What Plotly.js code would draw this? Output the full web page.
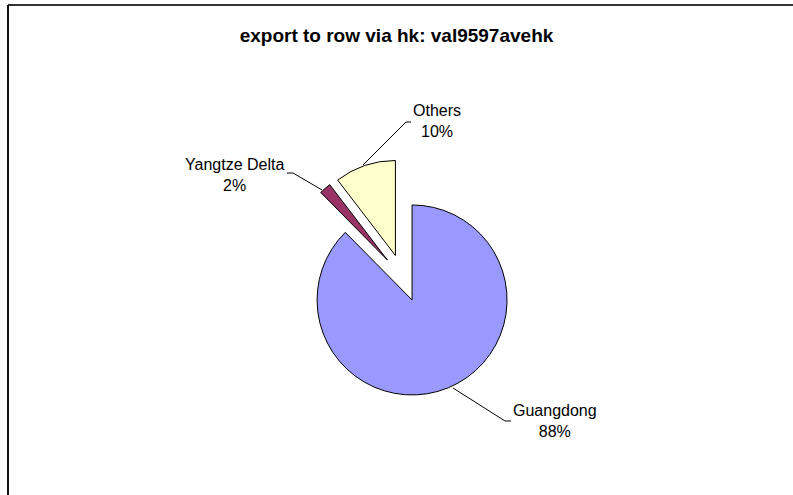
<!DOCTYPE html>
<html>
<head>
<meta charset="utf-8">
<script src="https://cdn.plot.ly/plotly-3.0.1.min.js"></script>
<style>
  body { margin: 0; background: #fff; }
  #chart { width: 793px; height: 495px; }
</style>
</head>
<body>
<div id="chart"></div>
<script>
// Region shares of exports to rest of world via HK
const regions = ["Guangdong", "Yangtze Delta", "Others"];
const shares = [87.6, 2.0, 10.4];
const sliceColors = ["#9999FF", "#993366", "#FFFFCC"];

// label placement (Excel style, outside with leader lines)
const labelPos = [
    { x: 555, y: 421 },
    { x: 235, y: 175 },
    { x: 437, y: 121 }
];
const leaderPaths = [
    "M453,388 L505,421 L511,421",
    "M287,173 L293,173 L322,190",
    "M363,165 L406,122 L411,122"
];

const W = 793, H = 495;
const total = shares.reduce((a, b) => a + b, 0);

const trace = {
    type: 'pie',
    labels: regions,
    values: shares,
    sort: false,
    direction: 'clockwise',
    rotation: 0,
    pull: 0.25,
    textinfo: 'none',
    hoverinfo: 'label+percent',
    marker: { colors: sliceColors, line: { color: '#000', width: 1 } },
    domain: { x: [0.3585, 0.6580], y: [0.1985, 0.6783] },
    showlegend: false
};

// helper to turn pixel path into paper-coordinate path
function toPaper(path) {
    return path.replace(/(\d+(?:\.\d+)?),(\d+(?:\.\d+)?)/g, (m, x, y) =>
        `${(x / W).toFixed(4)},${(1 - y / H).toFixed(4)}`);
}

const annotations = regions.map((r, i) => ({
    text: `${r}<br>${Math.round(shares[i] / total * 100)}%`,
    xref: 'paper', yref: 'paper',
    x: labelPos[i].x / W, y: 1 - labelPos[i].y / H,
    xanchor: 'center', yanchor: 'middle',
    showarrow: false,
    font: { family: 'Arial, "Liberation Sans", sans-serif', size: 16, color: '#000' }
}));

const shapes = leaderPaths.map(p => ({
    type: 'path', xref: 'paper', yref: 'paper',
    path: toPaper(p),
    line: { color: '#000', width: 1 }
}));
// chart area frame (top and left edges visible)
shapes.push({ type: 'line', xref: 'paper', yref: 'paper',
    x0: 8 / W, x1: 1.01, y0: 1 - 5 / H, y1: 1 - 5 / H, line: { color: '#333', width: 2 } });
shapes.push({ type: 'line', xref: 'paper', yref: 'paper',
    x0: 8 / W, x1: 8 / W, y0: 1 - 5 / H, y1: -0.01, line: { color: '#111', width: 2 } });

const layout = {
    width: W, height: H,
    margin: { l: 0, r: 0, t: 0, b: 0 },
    paper_bgcolor: '#fff',
    title: {
        text: '<b>export to row via hk: val9597avehk</b>',
        x: 0.5, xanchor: 'center',
        y: 1 - 35 / H, yanchor: 'middle', yref: 'container',
        font: { family: 'Arial, "Liberation Sans", sans-serif', size: 19, color: '#000' }
    },
    annotations: annotations,
    shapes: shapes
};

Plotly.newPlot('chart', [trace], layout, { displayModeBar: false });
</script>
</body>
</html>
